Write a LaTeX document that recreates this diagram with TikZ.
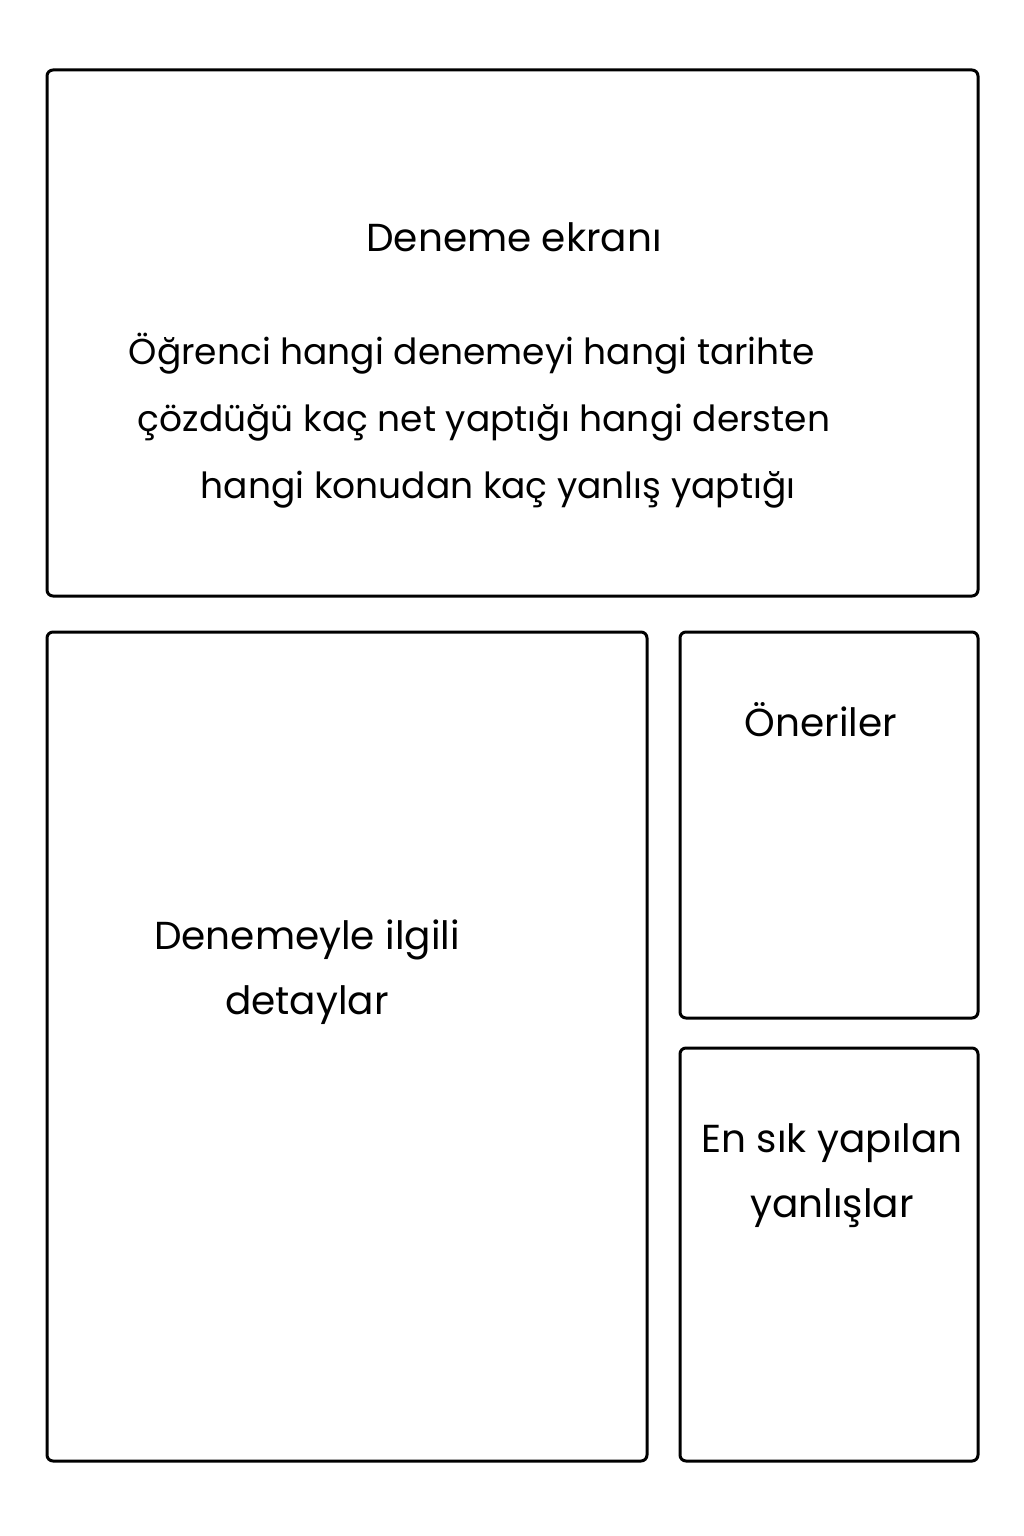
\documentclass[tikz,border=0pt]{standalone}
\usepackage{fontspec}
\setmainfont{Poppins}
\usepackage{tikz}
\usetikzlibrary{positioning}

\tikzset{
    panel/.style={draw, rectangle, line width=3pt, rounded corners=6pt, inner sep=0pt, outer sep=0pt},
    label/.style={anchor=base, inner sep=0pt, font=\fontsize{39}{65}\selectfont},
    body/.style={anchor=base, inner sep=0pt, font=\fontsize{36}{66}\selectfont},
}

\begin{document}
\begin{tikzpicture}[x=1pt, y=-1pt]
    \useasboundingbox (0,0) rectangle (1024,1536);

    % panels
    \node[panel, minimum width=931pt, minimum height=526pt] (ekran) at (512.5,333) {};
    \node[panel, minimum width=600pt, minimum height=829pt] (detay) at (347,1046.5) {};
    \node[panel, minimum width=298pt, minimum height=386pt] (oneri) at (829,825) {};
    \node[panel, minimum width=298pt, minimum height=413pt] (yanlis) at (829,1254.5) {};

    % texts
    \node[label] (baslik) at (514,251) {Deneme ekranı};
    \node[body] (satir1) at (472,364) {Öğrenci hangi denemeyi hangi tarihte};
    \node[body] (satir2) at (484,431) {çözdüğü kaç net yaptığı hangi dersten};
    \node[body] (satir3) at (498,498) {hangi konudan kaç yanlış yaptığı};
    \node[label, align=center] (detaytxt) at (307,1014) {Denemeyle ilgili\\detaylar};
    \node[label] (oneritxt) at (821,736) {Öneriler};
    \node[label, align=center] (yanlistxt) at (832,1217) {En sık yapılan\\yanlışlar};
\end{tikzpicture}
\end{document}
